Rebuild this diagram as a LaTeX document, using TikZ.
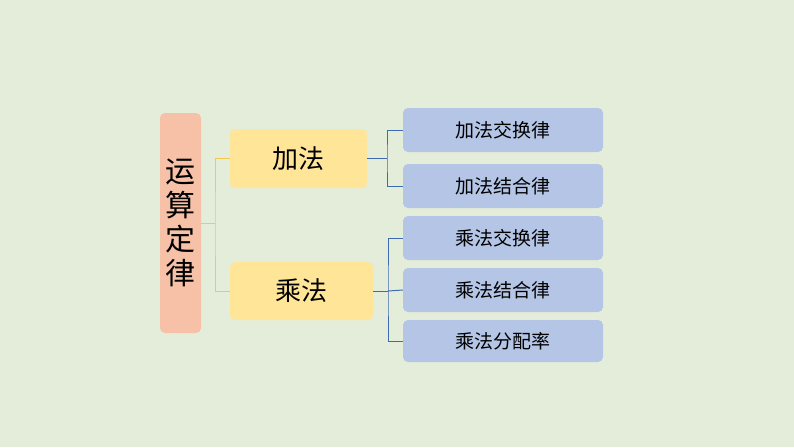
\documentclass[tikz,border=0pt]{standalone}
\usepackage{fontspec}
\newfontfamily\cjk{Noto Sans CJK SC}
\begin{document}
\begin{tikzpicture}[x=1pt,y=-1pt,
  box/.style={rounded corners=5pt,inner sep=0pt,font=\cjk},
  rbox/.style={box,fill=blueb,minimum width=200pt,minimum height=44pt,font=\cjk\fontsize{19}{20}\selectfont},
  ybox/.style={box,fill=yel,minimum height=59pt,font=\cjk\fontsize{26}{28}\selectfont},
  oline/.style={draw=oline,line width=1pt},
  bline/.style={draw=bline,line width=1pt}]
\definecolor{bg}{HTML}{E4EDD9}
\definecolor{blueb}{HTML}{B4C5E6}
\definecolor{yel}{HTML}{FFE597}
\definecolor{sal}{HTML}{F6C1A6}
\definecolor{oline}{HTML}{F2C94C}
\definecolor{bline}{HTML}{3F6BB0}
\fill[bg] (0,0) rectangle (794,447);
\node[box,fill=sal,minimum width=41pt,minimum height=220pt,font=\cjk\fontsize{30}{34}\selectfont,align=center] (L) at (180.5,223) {运\\算\\定\\律};
\node[ybox,minimum width=137pt] (A) at (298.5,158.5) {加法};
\node[ybox,minimum width=143pt,minimum height=58pt] (M) at (301.5,291) {乘法};
\node[rbox] (a1) at (503,130) {加法交换律};
\node[rbox] (a2) at (503,186) {加法结合律};
\node[rbox] (m1) at (503,238) {乘法交换律};
\node[rbox] (m2) at (503,290) {乘法结合律};
\node[rbox,minimum height=42pt] (m3) at (503,341) {乘法分配率};
\coordinate (oj) at (215,223);
\draw[oline] (L.east|-oj) -- (oj);
\draw[oline] (A.west) -| (oj) |- (M.west);
\coordinate (aj) at (387,158.5);
\draw[bline] (A.east) -- (aj);
\draw[bline] (a1.west) -| (aj) |- (a2.west);
\coordinate (mj) at (388,291);
\draw[bline] (M.east) -- (mj);
\draw[bline] (m1.west) -| (mj) |- (m3.west);
\draw[bline] (mj) -- (m2.west);
\end{tikzpicture}
\end{document}
